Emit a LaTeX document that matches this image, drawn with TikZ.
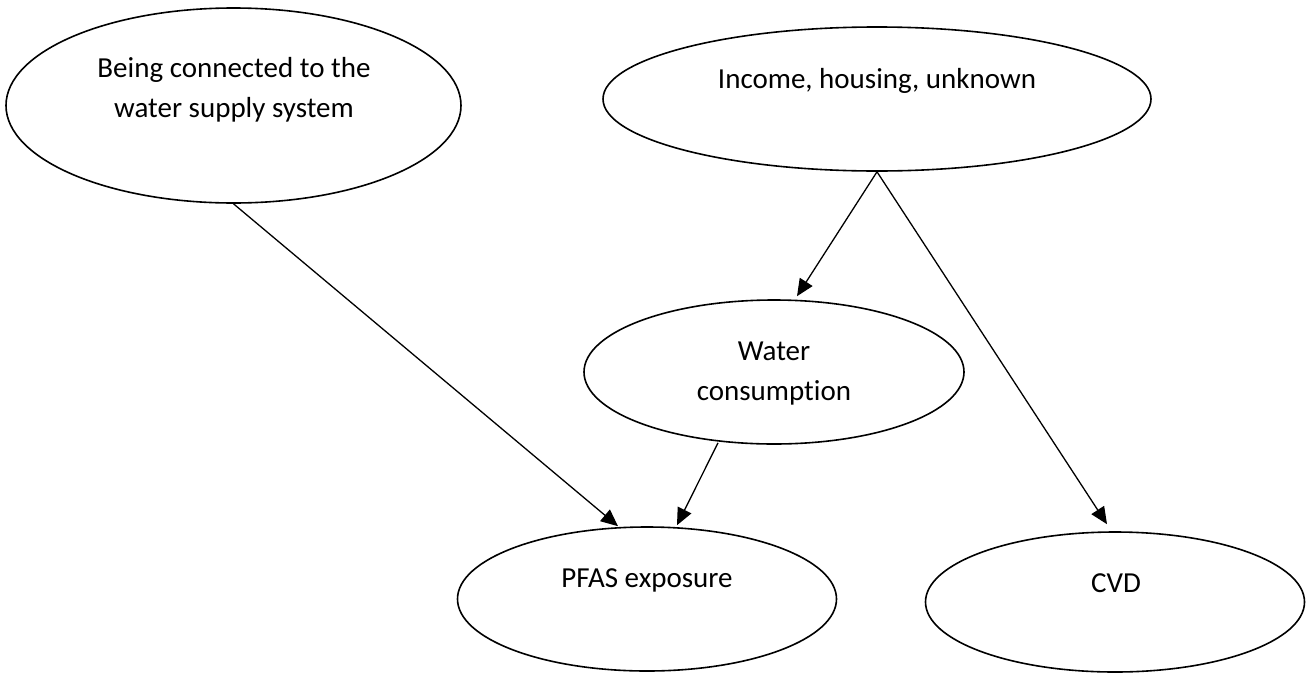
\documentclass[tikz,border=0pt]{standalone}
\usepackage{fontspec}
\setmainfont[Ligatures=NoCommon]{Carlito}
\usetikzlibrary{shapes.geometric,arrows.meta,calc}
\tikzset{
  oval/.style={draw=black,line width=1.6pt,ellipse,inner sep=0pt,fill=white},
  lbl/.style={font=\fontsize{29}{40}\selectfont,align=center,anchor=base,inner sep=0pt},
  conn/.style={draw=black,line width=1.3pt,-{Triangle[length=17pt,width=15pt]}}
}
\begin{document}
\begin{tikzpicture}[x=1pt,y=-1pt]
\useasboundingbox[fill=white] (0,0) rectangle (1308,672);
\node[oval,minimum width=455pt,minimum height=195pt] (conn) at (233.5,105.5) {};
\node[oval,minimum width=548pt,minimum height=144pt] (inc) at (877,99) {};
\node[oval,minimum width=380pt,minimum height=144pt] (water) at (774,372) {};
\node[oval,minimum width=379pt,minimum height=144pt] (pfas) at (647,599) {};
\node[oval,minimum width=379pt,minimum height=140pt] (cvd) at (1115,602) {};
\node[lbl] (connT) at (234,117) {Being connected to the\\water supply system};
\node[lbl] (incT) at (877,88) {Income, housing, unknown};
\node[lbl] (waterT) at (774,400) {Water\\consumption};
\node[lbl] (pfasT) at (647,587) {PFAS exposure};
\node[lbl] (cvdT) at (1116,592) {CVD};
\draw[conn] (conn.south) -- ($(pfas.north)+(-29,0)$);
\draw[conn] (inc.south) -- ($(water.north)+(23,-3)$);
\draw[conn] (inc.south) -- ($(cvd.north)+(-8,-7)$);
\draw[conn] ($(water.south)+(-56,-2)$) -- ($(pfas.north)+(30,-1)$);
\end{tikzpicture}
\end{document}
